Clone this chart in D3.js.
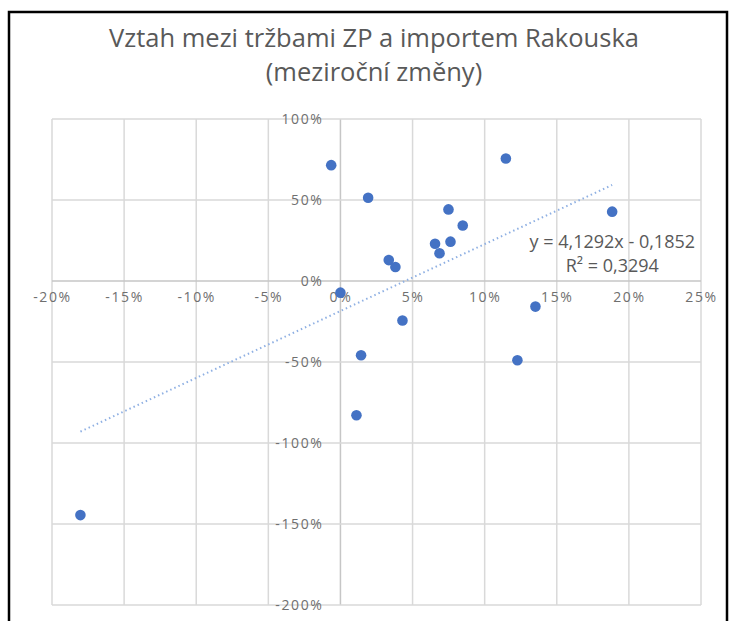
<!DOCTYPE html>
<html>
<head>
<meta charset="utf-8">
<script src="https://cdn.jsdelivr.net/npm/d3@7"></script>
<style>
  body { margin: 0; background: #fff; }
  text { font-family: "Open Sans", sans-serif; }
</style>
</head>
<body>
<div id="chart"></div>
<script>
// meziroční změny (x = tržby ZP, y = import Rakouska)
zpChange = [-0.0064, 0.0192, 0.0000, 0.1147, 0.0749, 0.0848, 0.0656, 0.0763, 0.0687, 0.0335,
            0.0381, 0.1884, 0.1352, 0.0430, 0.0143, 0.0111, 0.1227, -0.1803]
importChange = [0.715, 0.514, -0.072, 0.756, 0.442, 0.343, 0.230, 0.243, 0.171, 0.129,
                0.086, 0.428, -0.158, -0.244, -0.458, -0.829, -0.489, -1.445]
xTicks = [-0.2, -0.15, -0.1, -0.05, 0, 0.05, 0.1, 0.15, 0.2, 0.25]
yTicks = [-2, -1.5, -1, -0.5, 0, 0.5, 1]
trendSlope = 4.1292
trendIntercept = -0.1852
trendR2 = 0.3294
titleLines = ["Vztah mezi tržbami ZP a importem Rakouska", "(meziroční změny)"]

W = 731, H = 621
margin = {top: 119, right: 30, bottom: 16, left: 52}
width = W - margin.left - margin.right
height = H - margin.top - margin.bottom

root = d3.select("#chart")
  .append("svg")
  .attr("width", W)
  .attr("height", H)

// chart frame
root.append("path")
  .attr("d", `M9,${H + 5} V12 H727 V${H + 5}`)
  .attr("fill", "none")
  .attr("stroke", "#000")
  .attr("stroke-width", 2.5)

root.selectAll(".title")
  .data(titleLines)
  .join("text")
  .attr("class", "title")
  .attr("x", 374)
  .attr("y", (d, i) => 47 + i * 34)
  .attr("text-anchor", "middle")
  .style("font-size", "25.5px")
  .style("fill", "#595959")
  .text(d => d)

svg = root.append("g")
  .attr("transform", `translate(${margin.left}, ${margin.top})`)

x = d3.scaleLinear().domain([-0.2, 0.25]).range([0, width])
y = d3.scaleLinear().domain([-2, 1]).range([height, 0])

pct = d => Math.round(d * 100) + "%"

// grid
svg.append("g")
  .selectAll("line")
  .data(xTicks)
  .join("line")
    .attr("x1", d => x(d)).attr("x2", d => x(d))
    .attr("y1", 0).attr("y2", height)
    .style("stroke", d => d === 0 ? "#c6c6c6" : "#d9d9d9")
    .style("stroke-width", 1.5)
svg.append("g")
  .selectAll("line")
  .data(yTicks)
  .join("line")
    .attr("x1", 0).attr("x2", width)
    .attr("y1", d => y(d)).attr("y2", d => y(d))
    .style("stroke", d => d === 0 ? "#c6c6c6" : "#d9d9d9")
    .style("stroke-width", 1.5)

// axis labels sit on the zero lines
xAxis = svg.append("g")
  .attr("transform", `translate(0, ${y(0)})`)
  .call(d3.axisBottom(x).tickValues(xTicks).tickFormat(pct).tickSize(0).tickPadding(11))
xAxis.select(".domain").remove()

yAxis = svg.append("g")
  .attr("transform", `translate(${x(0)}, 0)`)
  .call(d3.axisLeft(y).tickValues(yTicks).tickFormat(pct).tickSize(0).tickPadding(17))
yAxis.select(".domain").remove()

svg.selectAll(".tick text")
  .style("font-family", "'Open Sans', sans-serif")
  .style("font-size", "14px")
  .style("letter-spacing", "1.6px")
  .style("fill", "#6f6f6f")

// trendline over the data range
xExt = d3.extent(zpChange)
svg.append("line")
  .attr("x1", x(xExt[0])).attr("y1", y(trendSlope * xExt[0] + trendIntercept))
  .attr("x2", x(xExt[1])).attr("y2", y(trendSlope * xExt[1] + trendIntercept))
  .style("stroke", "#8fb0e3")
  .style("stroke-width", 2)
  .style("stroke-dasharray", "1.5,3")

points = zpChange.map((d, i) => ({x: d, y: importChange[i]}))
svg.selectAll(".dot")
  .data(points)
  .join("circle")
    .attr("class", "dot")
    .attr("cx", d => x(d.x))
    .attr("cy", d => y(d.y))
    .attr("r", 5.3)
    .style("fill", "#4472c4")

fmt = v => v.toFixed(4).replace(".", ",")
eq = svg.append("text")
  .attr("x", x(0.1885))
  .attr("y", y(0.205))
  .attr("text-anchor", "middle")
  .style("font-size", "18px")
  .style("fill", "#595959")
eq.append("tspan")
  .attr("x", x(0.1885))
  .text(`y = ${fmt(trendSlope)}x - ${fmt(-trendIntercept)}`)
eq.append("tspan")
  .attr("x", x(0.1885))
  .attr("dy", 24)
  .text(`R² = ${fmt(trendR2)}`)
</script>
</body>
</html>
